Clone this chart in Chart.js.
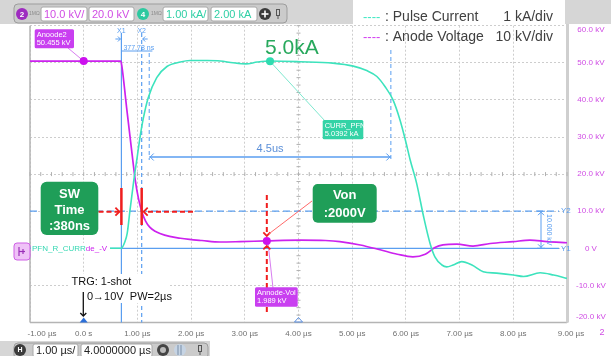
<!DOCTYPE html>
<html><head><meta charset="utf-8">
<script src="https://cdn.jsdelivr.net/npm/chart.js@4.4.1/dist/chart.umd.min.js"></script>
<style>html,body{margin:0;padding:0;background:#fff;}canvas{display:block;}</style>
</head><body>
<canvas id="c" width="611" height="356"></canvas>
<script>
// ---------- data ----------
const xTickLabels = ["-1.00 µs","0.0 s","1.00 µs","2.00 µs","3.00 µs","4.00 µs","5.00 µs","6.00 µs","7.00 µs","8.00 µs","9.00 µs"];
const yTickLabels = ["-20.0 kV","-10.0 kV","0 V","10.0 kV","20.0 kV","30.0 kV","40.0 kV","50.0 kV","60.0 kV"];

// Anode voltage (µs, kV)
const voltTime = [-1.00,0.00,0.69,0.71,0.80,0.90,0.96,1.02,1.08,1.15,1.23,1.33,1.42,1.60,1.80,1.97,2.20,2.54,2.91,3.40,4.03,4.50,4.77,5.15,5.52,5.84,6.13,6.36,6.54,6.69,6.95,7.25,7.57,8.00,8.31,8.63,9.00];
const voltKV   = [50.45,50.45,50.45,49.2,37.8,25.5,18.4,13.4,10.0,7.4,5.7,4.6,4.0,3.2,2.7,2.4,2.1,1.7,1.8,2.0,2.2,2.1,1.8,0.9,-0.4,-1.6,-2.3,-1.6,0.2,0.9,1.1,0.6,1.3,1.8,2.2,1.8,1.5];

// Pulse current (µs, kA)
const currTime = [-1.00,0.70,0.76,0.81,0.86,0.93,1.00,1.06,1.11,1.20,1.36,1.55,1.80,1.98,2.30,2.54,2.78,3.02,3.23,3.47,4.03,4.64,5.02,5.27,5.46,5.61,5.76,5.89,5.99,6.08,6.20,6.33,6.45,6.54,6.67,6.76,6.88,7.04,7.23,7.44,7.69,8.00,8.19,8.50,8.75,9.00];
const currKA   = [0,0,0.15,0.4,1.0,1.8,2.5,3.1,3.5,4.05,4.6,4.9,5.02,5.06,5.06,5.05,5.0,4.97,5.02,5.05,5.03,4.99,4.91,4.79,4.63,4.36,4.0,3.46,2.92,2.38,1.75,0.85,0.13,-0.23,-0.45,-0.50,-0.45,-0.36,-0.45,-0.63,-0.67,-0.72,-0.76,-0.66,-0.72,-0.81];

// measurement markers
const voltMarkTime = [0.0, 3.41];
const voltMarkKV   = [50.455, 1.989];
const currMarkTime = [3.47];
const currMarkKA   = [5.0392];

// cursors
const cursorX1 = 0.702, cursorDx = 0.37778;
const cursorY1 = 0, cursorY2 = 10;
const spanStart = 1.22, spanEnd = 5.72;

// ---------- style ----------
const F = '"Liberation Sans", Arial, sans-serif';
const MAG = '#cc22ee', CYAN = '#3de3bd', BLUE = '#5a9ef0', RED = '#f01e1e', GREEN = '#1f9e58';
const MAGTXT = '#d04ce4', CYTXT = '#2fcfa5';

function rr(ctx,x,y,w,h,r){ctx.beginPath();ctx.moveTo(x+r,y);ctx.arcTo(x+w,y,x+w,y+h,r);ctx.arcTo(x+w,y+h,x,y+h,r);ctx.arcTo(x,y+h,x,y,r);ctx.arcTo(x,y,x+w,y,r);ctx.closePath();}
function line(ctx,x1,y1,x2,y2,col,w,dash){ctx.save();ctx.beginPath();ctx.strokeStyle=col;ctx.lineWidth=w;ctx.setLineDash(dash||[]);ctx.moveTo(x1,y1);ctx.lineTo(x2,y2);ctx.stroke();ctx.restore();}
function chevron(ctx,x,y,dir,s,col,w){
  ctx.save();ctx.strokeStyle=col;ctx.lineWidth=w;ctx.setLineDash([]);ctx.beginPath();
  if(dir==='r'){ctx.moveTo(x-s,y-s);ctx.lineTo(x,y);ctx.lineTo(x-s,y+s);}
  if(dir==='l'){ctx.moveTo(x+s,y-s);ctx.lineTo(x,y);ctx.lineTo(x+s,y+s);}
  if(dir==='d'){ctx.moveTo(x-s,y-s);ctx.lineTo(x,y);ctx.lineTo(x+s,y-s);}
  if(dir==='u'){ctx.moveTo(x-s,y+s);ctx.lineTo(x,y);ctx.lineTo(x+s,y+s);}
  ctx.stroke();ctx.restore();}
function txt(ctx,s,x,y,font,col,align,base){ctx.save();ctx.font=font;ctx.fillStyle=col;ctx.textAlign=align||'left';ctx.textBaseline=base||'middle';ctx.fillText(s,x,y);ctx.restore();}

function ctlBox(ctx,x,y,w,h,s,col){ctx.save();rr(ctx,x,y,w,h,2);ctx.fillStyle='#fff';ctx.fill();ctx.strokeStyle='#a8a8a8';ctx.lineWidth=1;ctx.stroke();ctx.restore();txt(ctx,s,x+3,y+h/2+0.5,'11px '+F,col);}
function circ(ctx,x,y,r,col){ctx.beginPath();ctx.arc(x,y,r,0,Math.PI*2);ctx.fillStyle=col;ctx.fill();}
function tag(ctx,x,y,w,h,fill,l1,l2){ctx.save();rr(ctx,x,y,w,h,1.5);ctx.fillStyle=fill;ctx.fill();ctx.restore();txt(ctx,l1,x+2,y+5.5,'7.5px '+F,'#fff');txt(ctx,l2,x+2,y+14,'7.5px '+F,'#fff');}

const deco = {
  id:'deco',
  beforeDraw(chart){
    const ctx = chart.ctx;
    const sx = chart.scales.x, sy = chart.scales.y;
    const li = sx.getLabelItems(chart.chartArea);
    if(li.length && !li[0]._s){li[0].options.translation[0]+=12;li[0]._s=1;}
    if(li.length && !li[li.length-1]._s){li[li.length-1].options.translation[0]+=4;li[li.length-1]._s=1;}
    const ly = sy.getLabelItems(chart.chartArea);
    if(ly.length && !ly[0]._s){ly[0].options.translation[1]-=5.5;ly[0]._s=1;}
    if(ly.length && !ly[ly.length-1]._s){ly[ly.length-1].options.translation[1]+=4.3;ly[ly.length-1]._s=1;}

    ctx.save();
    ctx.fillStyle='#fff';ctx.fillRect(0,0,611,356);
    ctx.fillStyle='#d6d6d6';ctx.fillRect(0,0,611,24);
    rr(ctx,14,4,273,19,4);ctx.fillStyle='#cbcbcb';ctx.fill();ctx.strokeStyle='#9d9d9d';ctx.lineWidth=1;ctx.stroke();
    circ(ctx,22,14,6,'#9e2bc0');txt(ctx,'2',22,14.5,'bold 8px '+F,'#fff','center');
    txt(ctx,'1MΩ',29,14,'5px '+F,'#8a8a8a');
    ctlBox(ctx,41,7,46,14,'10.0 kV/',MAGTXT);
    ctlBox(ctx,89,7,45,14,'20.0 kV',MAGTXT);
    circ(ctx,143,14,6,'#2ec9a0');txt(ctx,'4',143,14.5,'bold 8px '+F,'#fff','center');
    txt(ctx,'1MΩ',151,14,'5px '+F,'#8a8a8a');
    ctlBox(ctx,163,7,45,14,'1.00 kA/',CYTXT);
    ctlBox(ctx,211,7,46,14,'2.00 kA',CYTXT);
    circ(ctx,265,14,6,'#3a3a3a');line(ctx,261.5,14,268.5,14,'#fff',1.6);line(ctx,265,10.5,265,17.5,'#fff',1.6);
    ctx.strokeStyle='#555';ctx.lineWidth=1;ctx.strokeRect(276.5,9.5,3,6);line(ctx,278,16,278,19,'#555',1);
    ctx.fillStyle='#fff';ctx.fillRect(353,0,212,25);
    ctx.fillStyle='#d6d6d6';ctx.fillRect(0,341,210,15);
    rr(ctx,14,343,194,16,4);ctx.fillStyle='#cbcbcb';ctx.fill();ctx.strokeStyle='#9d9d9d';ctx.stroke();
    circ(ctx,20,350,6,'#3c3c3c');txt(ctx,'H',20,350.5,'bold 7px '+F,'#fff','center');
    ctlBox(ctx,33,344,45,13,'1.00 µs/','#222');
    ctlBox(ctx,81,344,71,13,'4.0000000 µs','#222');
    circ(ctx,163,350,6,'#444');circ(ctx,163,350,3,'#bbb');
    circ(ctx,180,350,6,'#c6d4e4');line(ctx,178,345,178,355,'#7a8fa8',1);line(ctx,181,345,181,355,'#7a8fa8',1);
    ctx.strokeStyle='#555';ctx.lineWidth=1;ctx.strokeRect(198.5,345.5,3,6);line(ctx,200,352,200,355,'#555',1);
    ctx.restore();
  },
  beforeDatasetsDraw(chart){
    const ctx=chart.ctx, a=chart.chartArea, sx=chart.scales.x, sy=chart.scales.y, sc=chart.scales.y2;
    const px=v=>sx.getPixelForValue(v), py=v=>sy.getPixelForValue(v), pc=v=>sc.getPixelForValue(v);
    ctx.save();
    line(ctx,a.left,a.top,a.left,a.bottom,'#b4b4b4',1.5);
    line(ctx,a.left,a.bottom,a.right,a.bottom,'#b4b4b4',1.5);
    line(ctx,a.right+0.5,24,a.right+0.5,a.bottom,'#cfcfcf',3);
    const cx=px(4), cy=py(20);
    for(let t=-1;t<=9.001;t+=0.2){const x=px(t);line(ctx,x,cy-2,x,cy+2,'#b0b0b0',1);}
    for(let v=-20;v<=60.001;v+=2){const y=py(v);line(ctx,cx-2,y,cx+2,y,'#b0b0b0',1);}
    const x1=px(cursorX1), x2=px(cursorX1+cursorDx);
    line(ctx,x1,33,x1,a.bottom,BLUE,1.2);
    line(ctx,x2,33,x2,a.bottom,BLUE,1.2,[4,3]);
    line(ctx,x1,51,x1+31,51,BLUE,1);
    line(ctx,a.left,py(cursorY2),559,py(cursorY2),BLUE,1.3,[7,4]);
    line(ctx,a.left,py(cursorY1),559,py(cursorY1),BLUE,1.2);
    const s1=px(spanStart), s2=px(spanEnd);
    line(ctx,s1,53,s1,160,BLUE,1,[4,3]);
    line(ctx,s2,50,s2,160,BLUE,1,[4,3]);
    line(ctx,s1,157,s2,157,BLUE,1.4);
    chevron(ctx,s1+1,157,'l',3.5,BLUE,1);chevron(ctx,s2-1,157,'r',3.5,BLUE,1);
    line(ctx,541,py(cursorY2),541,py(cursorY1),BLUE,1);
    line(ctx,537,py(cursorY2),545,py(cursorY2),BLUE,1);line(ctx,537,py(cursorY1),545,py(cursorY1),BLUE,1);
    chevron(ctx,541,py(cursorY2)+1,'u',3,BLUE,1);chevron(ctx,541,py(cursorY1)-1,'d',3,BLUE,1);
    const m0x=px(voltMarkTime[0]), m0y=py(voltMarkKV[0]);
    line(ctx,68,48,m0x,m0y,'#d87ef0',1);
    const m1x=px(voltMarkTime[1]), m1y=py(voltMarkKV[1]);
    line(ctx,m1x+1,m1y,273,288,'#d87ef0',1);
    const cmx=px(currMarkTime[0]), cmy=pc(currMarkKA[0]);
    line(ctx,cmx,cmy,325,121,'#7ee8cf',1);
    ctx.restore();
  },
  afterDatasetsDraw(chart){
    const ctx=chart.ctx, a=chart.chartArea, sx=chart.scales.x, sy=chart.scales.y;
    const px=v=>sx.getPixelForValue(v), py=v=>sy.getPixelForValue(v);
    ctx.save();
    const x1=px(cursorX1), x2=px(cursorX1+cursorDx);
    ctx.fillStyle='#fff';ctx.fillRect(31,243,79,10);
    txt(ctx,'PFN_R_CURR',32,248.5,'8px '+F,'#35d8b2');
    ctx.font='8px '+F;const w=ctx.measureText('PFN_R_CURR').width;
    txt(ctx,'de_-V',32+w,248.5,'8px '+F,MAG);
    rr(ctx,14,243,16,17,3);ctx.fillStyle='#efc2f7';ctx.fill();ctx.strokeStyle='#cf5fe6';ctx.lineWidth=1;ctx.stroke();
    line(ctx,19,247,19,256,'#9a2fb8',1.2);line(ctx,19,251.5,25,251.5,'#9a2fb8',1.2);line(ctx,23,249,23,254,'#9a2fb8',1.2);
    txt(ctx,'X1',x1,31,'7px '+F,BLUE,'center');
    txt(ctx,'X2',x2,31,'7px '+F,BLUE,'center');
    line(ctx,x1-6,39,x1-1,39,BLUE,1);chevron(ctx,x1-1,39,'r',2.5,BLUE,1);
    line(ctx,x2+6,39,x2+1,39,BLUE,1);chevron(ctx,x2+1,39,'l',2.5,BLUE,1);
    txt(ctx,(cursorDx*1000).toFixed(2)+' ns',x1+2,48,'7px '+F,BLUE);
    txt(ctx,'4.5us',(px(spanStart)+px(spanEnd))/2,149,'11px '+F,'#5b8fd8','center');
    txt(ctx,'Y2',561,py(cursorY2),'8px '+F,BLUE);
    txt(ctx,'Y1',561,py(cursorY1),'8px '+F,BLUE);
    ctx.save();ctx.translate(549,(py(cursorY1)+py(cursorY2))/2);ctx.rotate(Math.PI/2);
    txt(ctx,'10.000 kV',0,0,'7px '+F,BLUE,'center');ctx.restore();
    line(ctx,x1,188,x1,225,RED,2.5);line(ctx,x2,188,x2,225,RED,2.5);
    const yS=py(cursorY2)+0.5;
    line(ctx,98.5,yS,x1-2,yS,RED,2,[5,3]);chevron(ctx,x1-2,yS,'r',4,RED,1.8);
    line(ctx,193,yS,x2+3,yS,RED,2,[5,3]);chevron(ctx,x2+2,yS,'l',4,RED,1.8);
    const vx=px(voltMarkTime[1]), vy=py(voltMarkKV[1]);
    line(ctx,vx,195,vx,vy-6,RED,2,[5,3]);chevron(ctx,vx,vy-5,'d',3.5,RED,1.8);
    line(ctx,vx,312,vx,vy+6,RED,2,[5,3]);chevron(ctx,vx,vy+5,'u',3.5,RED,1.8);
    line(ctx,312,201,vx+2,vy-7,'#ff6a6a',1);
    rr(ctx,40.7,181.7,57.6,53.3,6);ctx.fillStyle=GREEN;ctx.fill();
    txt(ctx,'SW',69.5,194.5,'bold 13px '+F,'#fff','center');
    txt(ctx,'Time',69.5,210.5,'bold 13px '+F,'#fff','center');
    txt(ctx,':380ns',69.5,226.5,'bold 13px '+F,'#fff','center');
    rr(ctx,312.7,184,64,38.7,5);ctx.fillStyle=GREEN;ctx.fill();
    txt(ctx,'Von',344.7,195.5,'bold 13px '+F,'#fff','center');
    txt(ctx,':2000V',344.7,213.5,'bold 13px '+F,'#fff','center');
    tag(ctx,34.7,29.3,39.3,19,'#c93ff0','Anoode2','50.455 kV');
    tag(ctx,322.7,120,40.6,19.3,'#33d3a6','CURR_PFN','5.0392 kA');
    tag(ctx,255,287.3,42.7,19.4,'#c93ff0','Annode-Vol','1.989 kV');
    txt(ctx,'5.0kA',265,53.5,'21px '+F,'#27a85c','left','alphabetic');
    ctx.fillStyle='#fff';ctx.fillRect(68,274,102,29);
    txt(ctx,'TRG: 1-shot',71.5,282,'11px '+F,'#111');
    txt(ctx,'0→10V  PW=2µs',87,296.5,'11px '+F,'#111');
    line(ctx,83.3,292,83.3,316,'#111',1.3);chevron(ctx,83.3,316,'d',3,'#111',1.3);
    const tz=px(0);
    ctx.beginPath();ctx.moveTo(tz-4,a.bottom);ctx.lineTo(tz+4,a.bottom);ctx.lineTo(tz,a.bottom-5);ctx.closePath();ctx.fillStyle='#2b6fd9';ctx.fill();
    const t4=px(4);
    ctx.beginPath();ctx.moveTo(t4-4,a.bottom-0.5);ctx.lineTo(t4+4,a.bottom-0.5);ctx.lineTo(t4,a.bottom-5);ctx.closePath();ctx.strokeStyle='#5a8fe0';ctx.lineWidth=1;ctx.stroke();
    txt(ctx,'----',363,17,'13px '+F,'#3de8c2');
    txt(ctx,': Pulse Current',385,17,'14px '+F,'#404040');
    txt(ctx,'1 kA/div',553,17,'14px '+F,'#404040','right');
    txt(ctx,'----',363,37,'13px '+F,'#d23cf0');
    txt(ctx,': Anode Voltage',385,37,'14px '+F,'#404040');
    txt(ctx,'10 kV/div',553,37,'14px '+F,'#404040','right');
    txt(ctx,'2',602,333,'9px '+F,MAGTXT,'center');
    ctx.restore();
  }
};

const chart = new Chart(document.getElementById('c'), {
  type:'line',
  data:{datasets:[
    {label:'Anode Voltage',data:voltTime.map((t,i)=>({x:t,y:voltKV[i]})),yAxisID:'y',borderColor:MAG,borderWidth:1.7,pointRadius:0,cubicInterpolationMode:'monotone',order:3},
    {label:'Pulse Current',data:currTime.map((t,i)=>({x:t,y:currKA[i]})),yAxisID:'y2',borderColor:CYAN,borderWidth:1.6,pointRadius:0,cubicInterpolationMode:'monotone',order:2},
    {label:'V markers',data:voltMarkTime.map((t,i)=>({x:t,y:voltMarkKV[i]})),yAxisID:'y',showLine:false,pointRadius:4,pointBackgroundColor:'#cc11ee',pointBorderWidth:0,order:1},
    {label:'I marker',data:currMarkTime.map((t,i)=>({x:t,y:currMarkKA[i]})),yAxisID:'y2',showLine:false,pointRadius:4,pointBackgroundColor:'#2fdcb0',pointBorderWidth:0,order:1}
  ]},
  options:{
    responsive:false,animation:false,devicePixelRatio:1,
    layout:{padding:{left:30,top:25.7,right:0,bottom:0}},
    plugins:{legend:{display:false},tooltip:{enabled:false}},
    scales:{
      x:{type:'linear',position:'bottom',min:-1,max:9,
        ticks:{stepSize:1,autoSkip:false,maxRotation:0,padding:6,color:'#707070',font:{family:F,size:8},
          callback:(v,i)=>xTickLabels[i]},
        grid:{color:'#cdcdcd',lineWidth:1,drawTicks:false},
        border:{display:false,dash:[2,2]},
        afterFit(s){s.height=33.5;}},
      y:{type:'linear',position:'right',min:-20,max:60,
        ticks:{stepSize:10,padding:9,crossAlign:'center',color:MAGTXT,font:{family:F,size:8},
          callback:(v,i)=>yTickLabels[i]},
        grid:{color:'#cdcdcd',lineWidth:1,drawTicks:false},
        border:{display:false,dash:[2,2]},
        afterFit(s){s.width=44;}},
      y2:{type:'linear',display:false,min:-2,max:6}
    }
  },
  plugins:[deco]
});
</script>
</body></html>
